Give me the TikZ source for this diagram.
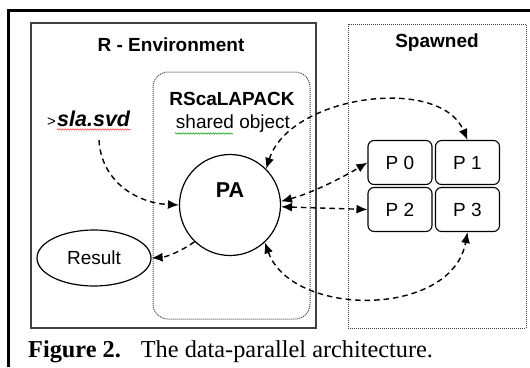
\documentclass[tikz,border=0pt]{standalone}
\usepackage{fontspec}
\setmainfont{Liberation Serif}
\newfontfamily\arialf{Liberation Sans}
\usetikzlibrary{arrows.meta,decorations.pathmorphing,shapes.geometric}
\begin{document}
\begin{tikzpicture}[x=1pt,y=-1pt,
  lbl/.style={font=\arialf\fontsize{19}{22}\selectfont, inner sep=0},
  blbl/.style={font=\arialf\bfseries\fontsize{19}{22}\selectfont, inner sep=0},
  tipa/.tip={Latex[length=11pt,width=9pt]},
  flow/.style={draw=black, line width=1.4pt, dash pattern=on 5.5pt off 4pt, -tipa},
  both/.style={flow, tipa-tipa},
  proc/.style={draw=black, line width=1.1pt, rounded corners=6pt, minimum width=64pt, minimum height=44pt, inner sep=0, font=\arialf\fontsize{19}{22}\selectfont},
  dotbox/.style={draw=black!75, line width=1pt, dash pattern=on 1pt off 1pt},
  spell/.style={line width=0.5pt, decorate, decoration={snake, amplitude=0.7pt, segment length=2.5pt}}
]
\useasboundingbox (0,0) rectangle (530,367);
% outer frame
\draw[line width=3pt] (8.5,367) -- (8.5,10.5) -- (530,10.5);
% containers
\draw[draw=black!75, line width=1.5pt] (31,23) rectangle (316,328);
\draw[dotbox] (348,24) rectangle (526,328);
\draw[dotbox, rounded corners=15pt] (153,72) rectangle (310,319);
% titles
\node[blbl] (renv) at (171,45) {R - Environment};
\node[blbl] (spawn) at (437,43) {Spawned};
\node[blbl] (rsca) at (232,99) {RScaLAPACK};
\node[lbl] (shobj) at (233,124) {shared object};
\node[inner sep=0, anchor=base west, font=\arialf\bfseries\itshape\fontsize{21.5}{24}\selectfont] (sla) at (57,126) {sla.svd};
\node[inner sep=0, anchor=base east, font=\arialf\fontsize{15}{18}\selectfont] (gt) at ([xshift=-1pt]sla.base west) {>};
\draw[spell, red!80] (57,129.5) -- (131,129.5);
\draw[spell, green!60!black] (175,133.5) -- (233,133.5);
\coordinate (slaout) at (99,140);
% main nodes
\node[draw=black, line width=1.2pt, circle, minimum size=101pt, inner sep=0] (PA) at (230,205) {};
\node[inner sep=0, font=\arialf\bfseries\fontsize{21.5}{24}\selectfont] (palbl) at (230,190) {PA};
\node[draw=black, line width=1.2pt, ellipse, minimum width=114pt, minimum height=56pt, inner sep=0, lbl] (res) at (94,258) {Result};
\node[proc] (P0) at (400,162.5) {P 0};
\node[proc] (P1) at (467.5,162.5) {P 1};
\node[proc] (P2) at (400,209.5) {P 2};
\node[proc] (P3) at (467.5,209.5) {P 3};
% connectors
\draw[flow] (slaout) .. controls (101,180) and (135,203) .. (PA.west);
\draw[flow] (PA.226) .. controls (180,252) and (166,257) .. (res.east);
\draw[both] (PA.45) .. controls (290,95) and (440,75) .. (P1.north);
\draw[both] (PA.4) .. controls (315,192) and (345,176) .. (P0.west);
\draw[both] (PA.-2) -- (P2.west);
\draw[both] (PA.-47) .. controls (292,318) and (452,318) .. (P3.south);
% caption
\node[anchor=base west, inner sep=0, font=\fontsize{24.3}{28}\selectfont] (cap) at (28,357) {\textbf{Figure 2.}\hspace{20pt}The data-parallel architecture.};
\end{tikzpicture}
\end{document}
